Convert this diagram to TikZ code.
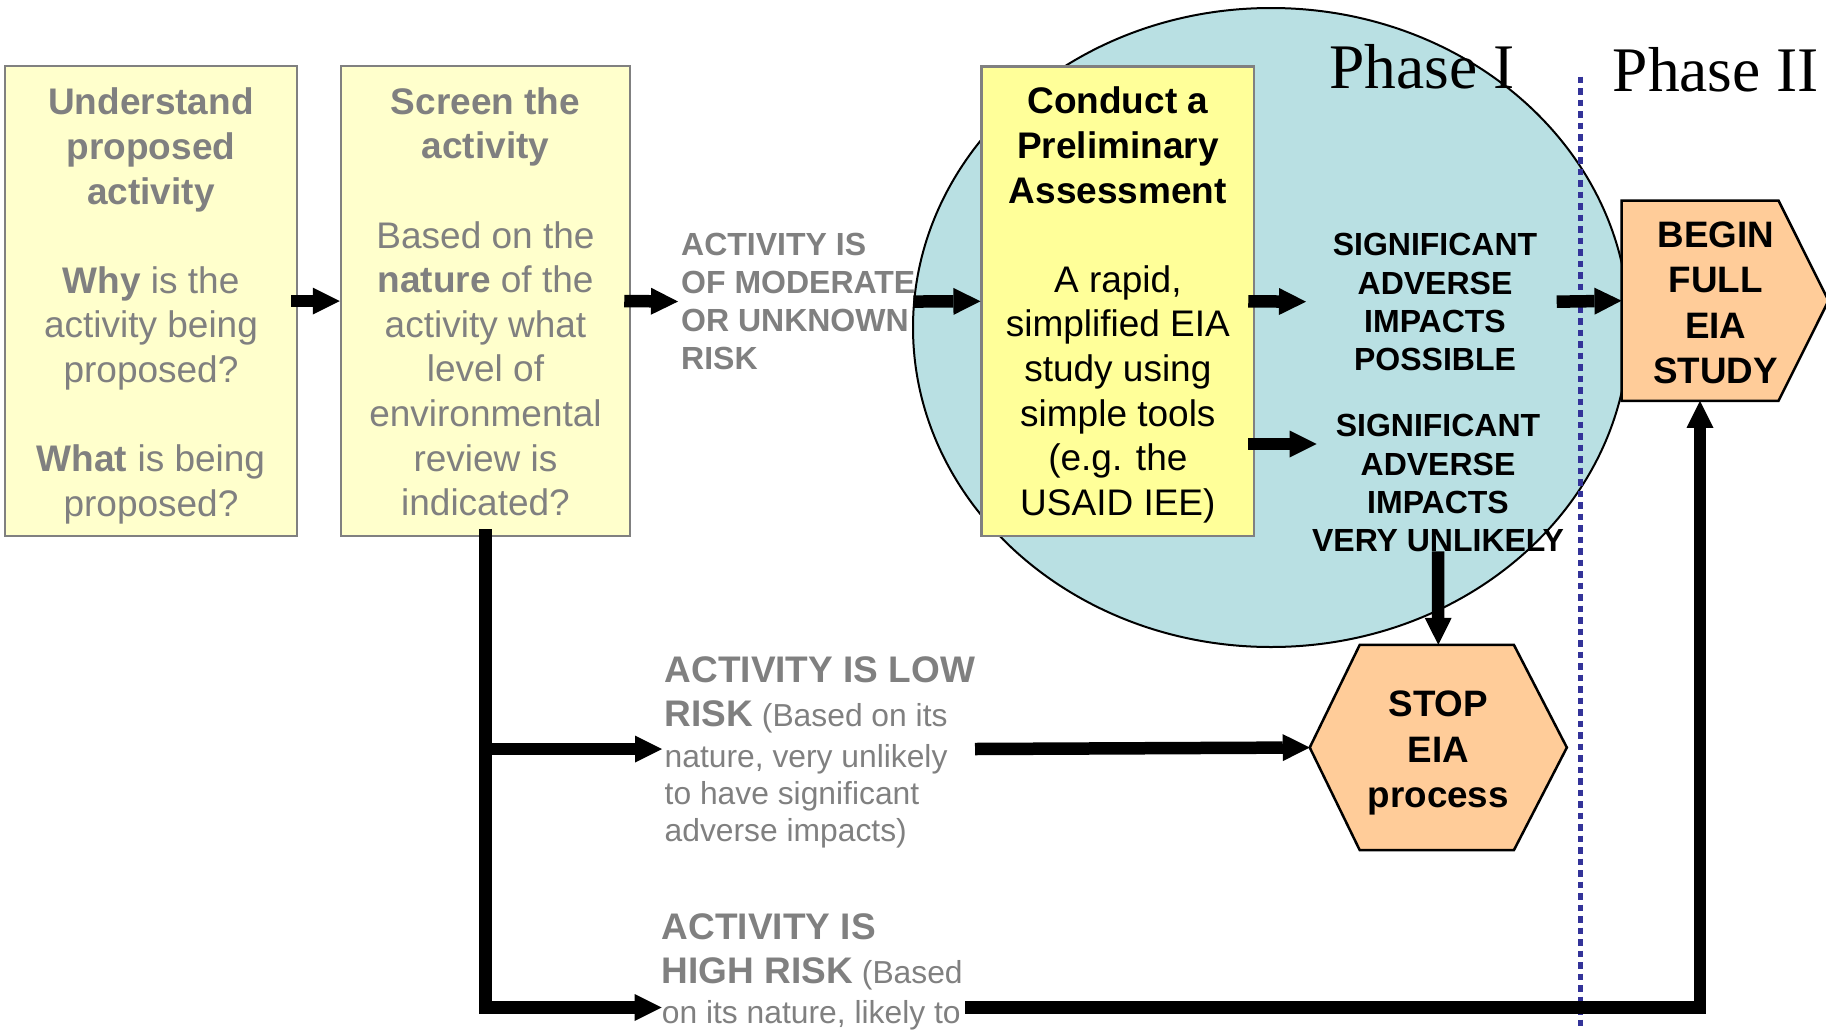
\documentclass[tikz,border=0pt]{standalone}
\usepackage{fontspec}
\setmainfont{Liberation Sans}
\newfontfamily\phasefont{Liberation Serif}
\usetikzlibrary{arrows.meta}
\definecolor{txtgrey}{RGB}{128,128,128}
\definecolor{boxborder}{RGB}{128,128,128}
\definecolor{lightyel}{RGB}{255,255,204}
\definecolor{yel}{RGB}{255,255,153}
\definecolor{peach}{RGB}{255,204,153}
\definecolor{ellfill}{RGB}{185,224,227}
\definecolor{phaseblue}{RGB}{51,51,153}
\newcommand\lgbold{\fontsize{37}{44}\selectfont\bfseries}
\begin{document}
\begin{tikzpicture}[x=1pt,y=-1pt,
  ybox/.style={draw=boxborder, line width=2.5pt, inner sep=0pt},
  boxtxt/.style={align=center, inner sep=0pt, anchor=north, font=\fontsize{37}{44.6}\selectfont},
  sigtxt/.style={align=center, inner sep=0pt, anchor=north, font=\fontsize{32}{38.4}\selectfont\bfseries},
  shapetxt/.style={align=center, inner sep=0pt, font=\fontsize{36.8}{45.2}\selectfont\bfseries},
  riskt/.style={align=left, inner sep=0pt, anchor=north west, text=txtgrey, font=\fontsize{31.8}{37}\selectfont},
  shapeline/.style={draw=black, line width=2.5pt, fill=peach, line join=miter},
  arr/.style={line width=12.5pt, line join=miter, -{Triangle[length=27pt,width=27pt,line width=0pt]}},
  phasetxt/.style={anchor=base west, inner sep=0pt, font=\phasefont\fontsize{63.5}{70}\selectfont},
  phaseline/.style={draw=phaseblue, line width=4.5pt, dash pattern=on 6.5pt off 5pt}]
\useasboundingbox (0,0) rectangle (1826,1031);
% Phase I ellipse
\path[draw=black, line width=2pt, fill=ellfill] (1271,327.5) ellipse [x radius=358pt, y radius=319.5pt];
% phase divider
\draw[phaseline] (1580.5,76.7) -- (1580.5,1031);
% boxes
\node[ybox, fill=lightyel, minimum width=292.3pt, minimum height=470pt] (b1) at (151,301) {};
\node[ybox, fill=lightyel, minimum width=289pt, minimum height=470pt] (b2) at (485.5,301) {};
\node[ybox, fill=yel, minimum width=272.3pt, minimum height=469.3pt] (b3) at (1117.85,301.3) {};
% shapes
\node[inner sep=0pt, minimum width=256.7pt, minimum height=205pt] (stop) at (1438.3,747.5) {};
\draw[shapeline] (stop.west) -- ([xshift=50pt]stop.north west) -- ([xshift=-53pt]stop.north east) -- (stop.east) -- ([xshift=-53pt]stop.south east) -- ([xshift=50pt]stop.south west) -- cycle;
\node[inner sep=0pt, minimum width=156.6pt, minimum height=200pt] (begin) at (1700,300.7) {};
\draw[shapeline] (begin.north west) -- (begin.north east) -- ([xshift=50pt]begin.east) -- (begin.south east) -- (begin.south west) -- cycle;
% box texts
\node[boxtxt, text=txtgrey] (b1t) at (151,87.9) {\textbf{Understand}\\\textbf{proposed}\\\textbf{activity}\\[44.6pt]\textbf{Why} is the\\activity being\\proposed?\\[44.6pt]\textbf{What} is being\\proposed?};
\node[boxtxt, text=txtgrey] (b2t) at (485.5,87.2) {\textbf{Screen the}\\\textbf{activity}\\[44.6pt]Based on the\\\textbf{nature} of the\\activity what\\level of\\environmental\\review is\\indicated?};
\node[boxtxt, text=black] (b3t) at (1117.85,86.8) {\textbf{Conduct a}\\\textbf{Preliminary}\\\textbf{Assessment}\\[44.6pt]A rapid,\\simplified EIA\\study using\\simple tools\\(e.g. the\\USAID IEE)};
% outcome texts
\node[riskt, font=\fontsize{32}{38}\selectfont\bfseries] (mod) at (681,233) {ACTIVITY IS\\OF MODERATE\\OR UNKNOWN\\RISK};
\node[sigtxt] (sig1) at (1435,233.2) {SIGNIFICANT\\ADVERSE\\IMPACTS\\POSSIBLE};
\node[sigtxt] (sig2) at (1438,414.1) {SIGNIFICANT\\ADVERSE\\IMPACTS\\VERY UNLIKELY};
\node[riskt] (low) at (664.5,656.4) {{\lgbold ACTIVITY IS LOW}\\[7.3pt]{\lgbold RISK} (Based on its\\[4pt]nature, very unlikely\\to have significant\\adverse impacts)};
\node[riskt] (high) at (661.7,913) {{\lgbold ACTIVITY IS}\\[7pt]{\lgbold HIGH RISK} (Based\\[3pt]on its nature, likely to};
\node[shapetxt] (stoptxt) at (1438.3,753) {STOP\\EIA\\process};
\node[shapetxt] (begintxt) at (1715.7,302.8) {BEGIN\\FULL\\EIA\\STUDY};
\node[phasetxt] (ph1) at (1329,88.3) {Phase I};
\node[phasetxt] (ph2) at (1612.5,91.7) {Phase II};
% free connector ends
\coordinate (s1in) at (1306,301.7);
\coordinate (s1out) at (1556.7,301.7);
\coordinate (s2in) at (1316.7,444);
\coordinate (lowin) at (662,749);
\coordinate (highin) at (661.7,1007.5);
\coordinate (lstart) at (975,749);
\coordinate (hstart) at (965,1007.5);
% connectors
\draw[arr] ([xshift=-7pt]b1.east) -- (b2.west);
\draw[arr] ([xshift=-7pt]b2.east) -- ([xshift=-3pt]mod.west);
\draw[arr] ([xshift=-2pt]mod.east) -- (b3.west);
\draw[arr] ([xshift=-7pt]b3.east) -- (s1in);
\draw[arr] ([xshift=-7pt,yshift=-142.7pt]b3.east) -- (s2in);
\draw[arr] (s1out) -- (begin.west);
\draw[arr] ([yshift=1pt]sig2.south) -- (stop.north);
\draw[arr] ([yshift=8pt]b2.south) |- (highin);
\draw[arr] (b2.south |- lowin) -- (lowin);
\draw[arr] (lstart) -- (stop.west);
\draw[arr] (hstart) -| (begin.south);
\end{tikzpicture}
\end{document}
